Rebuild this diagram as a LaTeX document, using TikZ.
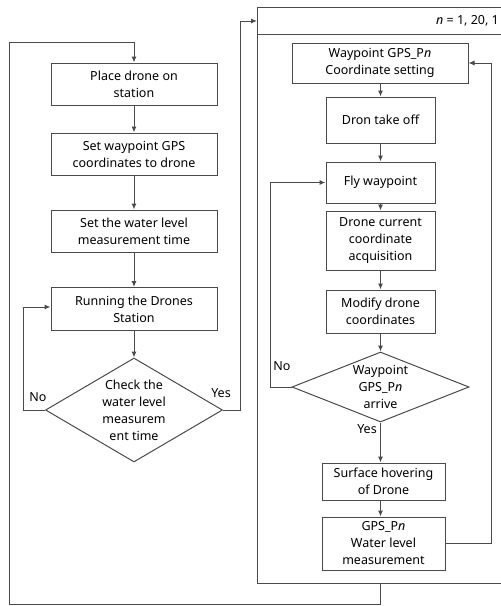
\documentclass[tikz,border=0pt]{standalone}
\usepackage{fontspec}
\setmainfont{Noto Sans}
\usetikzlibrary{shapes.geometric,arrows.meta}
\definecolor{ln}{HTML}{4A4A4A}
\begin{document}
\begin{tikzpicture}[x=1pt,y=-1pt,
  font=\fontsize{12.5}{17}\selectfont,
  box/.style={draw=ln,line width=1pt,rectangle,inner sep=0pt,align=center},
  dia/.style={draw=ln,line width=1pt,diamond,inner sep=0pt},
  lbl/.style={inner sep=0pt,align=center},
  conn/.style={draw=ln,line width=1pt},
  arr/.style={conn,-{Latex[length=6pt,width=5pt]}}]
\useasboundingbox (0,0) rectangle (501,606);
\clip (0,0) rectangle (501,606);
% left column
\node[box,minimum width=166,minimum height=42] (b1) at (134,84) {Place drone on\\station};
\node[box,minimum width=166,minimum height=42] (b2) at (134,154) {Set waypoint GPS\\coordinates to drone};
\node[box,minimum width=166,minimum height=42] (b3) at (134,231) {Set the water level\\measurement time};
\node[box,minimum width=166,minimum height=43] (b4) at (134,309) {Running the Drones\\Station};
\node[dia,minimum width=177,minimum height=104] (d1) at (134,410) {};
\node[lbl] (d1t) at (134,410) {Check the\\water level\\measurem\\ent time};
\node[lbl] (no1) at (38,397) {No};
\node[lbl] (yes1) at (221,393) {Yes};
% loop box
\node[draw=ln,line width=1pt,anchor=north west,minimum width=250,minimum height=576,inner sep=0pt] (loop) at (257,7) {};
\node[draw=ln,line width=1pt,anchor=north west,minimum width=250,minimum height=27,inner sep=0pt] (hdr) at (257,7) {};
\node[lbl,anchor=east] (hdrt) at (499,21) {\textit{n} = 1, 20, 1};
% right column
\node[box,minimum width=176,minimum height=40] (r1) at (380,63) {Waypoint GPS\_P\textit{n}\\Coordinate setting};
\node[box,minimum width=109,minimum height=46] (r2) at (380.5,120) {Dron take off};
\node[box,minimum width=109,minimum height=41] (r3) at (380.5,182.5) {Fly waypoint};
\node[box,minimum width=109,minimum height=59] (r4) at (380.5,240.5) {Drone current\\coordinate\\acquisition};
\node[box,minimum width=109,minimum height=43] (r5) at (380.5,311.5) {Modify drone\\coordinates};
\node[dia,minimum width=177,minimum height=70] (d2) at (380.5,387) {};
\node[lbl] (d2t) at (380.5,387) {Waypoint\\GPS\_P\textit{n}\\arrive};
\node[lbl] (no2) at (282,366) {No};
\node[lbl] (yes2) at (367,429) {Yes};
\node[box,minimum width=123,minimum height=37] (r6) at (383.5,481.5) {Surface hovering\\of Drone};
\node[box,minimum width=123,minimum height=53] (r7) at (383.5,543.5) {GPS\_P\textit{n}\\Water level\\measurement};
% coordinates
\coordinate (lb) at (380.5,583);
\coordinate (ob) at (380.5,604);
\coordinate (ol) at (9,604);
\coordinate (ot) at (9,42);
\coordinate (otr) at (134,42);
% left connectors
\draw[arr] (lb) -- (ob) -- (ol) -- (ot) -- (otr) -- (b1.north);
\draw[arr] (b1) -- (b2);
\draw[arr] (b2) -- (b3);
\draw[arr] (b3) -- (b4);
\draw[arr] (b4) -- (d1.north);
\draw[arr] (d1.west) -- (23,410) -- (23,307) -- (b4.west |- 0,307);
\draw[arr] (d1.east) -- (240,410) -- (240,21) -- (257,21);
% right connectors
\draw[arr] (r1.south -| 380.5,0) -- (r2.north);
\draw[arr] (r2) -- (r3);
\draw[arr] (r3) -- (r4);
\draw[arr] (r4) -- (r5);
\draw[arr] (r5) -- (d2.north);
\draw[arr] (d2.south) -- (d2.south |- r6.north);
\draw[arr] (r6.south -| d2.south) -- (d2.south |- r7.north);
\draw[arr] (d2.west) -- (270,387) -- (270,182.5) -- (r3.west);
\draw[arr] (r7.east) -- (491,543.5) -- (491,63) -- (r1.east);
\end{tikzpicture}
\end{document}
